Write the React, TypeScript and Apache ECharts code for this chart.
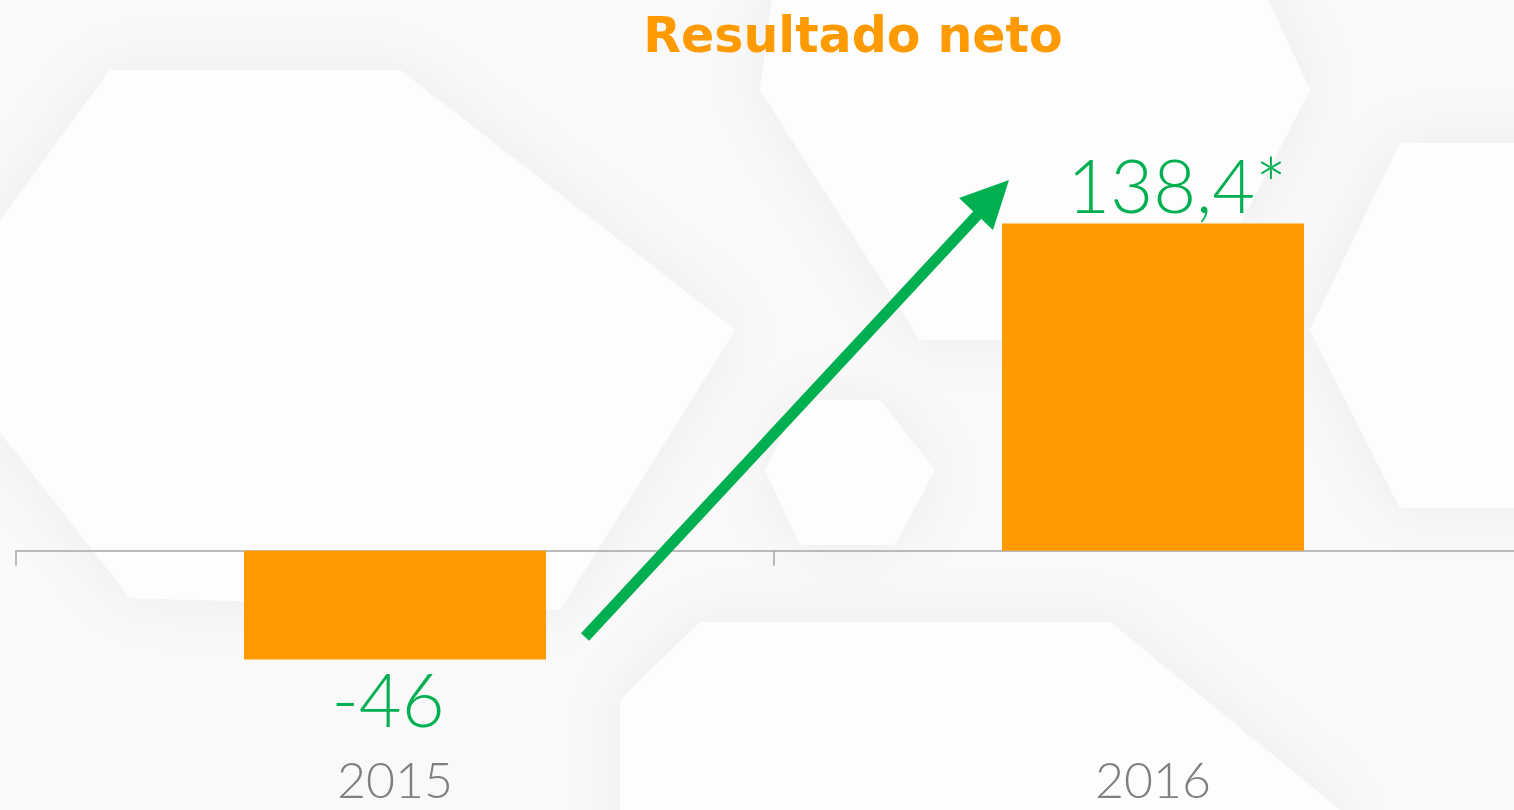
import React, { useEffect, useRef } from "react";
import * as echarts from "echarts";

const categories = ["2015", "2016"];
const values = [-46, 138.4];
const valueLabels = ["-46", "138,4*"];
const titleText = "Resultado neto";

const ORANGE = "#FF9A00";
const GREEN = "#00B050";

const hexes: number[][][] = [
  [[110, 70], [400, 70], [735, 330], [560, 610], [130, 598], [-80, 330]],
  [[780, -60], [1240, -60], [1310, 90], [1180, 340], [920, 340], [760, 90]],
  [[800, 400], [880, 400], [935, 470], [895, 545], [800, 545], [765, 470]],
  [[700, 622], [1110, 622], [1340, 810], [1340, 900], [620, 900], [620, 700]],
  [[1400, 143], [1560, 143], [1560, 508], [1400, 508], [1310, 330]],
];

export default function App() {
  const ref = useRef<HTMLDivElement>(null);
  useEffect(() => {
    const chart = echarts.init(ref.current!, null, { renderer: "svg" });
    const bg = hexes.map((pts) => ({
      type: "polygon",
      silent: true,
      z: -10,
      shape: { points: pts },
      style: { fill: "#fdfdfd", shadowBlur: 60, shadowColor: "rgba(0,0,0,0.05)" },
    }));
    chart.setOption({
      animation: false,
      backgroundColor: "#f9f9f9",
      title: {
        text: titleText,
        left: 848,
        top: 6,
        textAlign: "center",
        textStyle: { color: ORANGE, fontSize: 49, fontWeight: "bold", fontFamily: "DejaVu Sans" },
      },
      grid: { left: 16, width: 1516, top: 78, height: 709, containLabel: false, outerBoundsMode: "none" },
      xAxis: {
        type: "category",
        data: categories,
        axisLine: { lineStyle: { color: "#a6a6a6", width: 1.5 } },
        axisTick: { show: true, length: 15, lineStyle: { color: "#a6a6a6", width: 1.5 } },
        axisLabel: {
          color: "#808080",
          fontSize: 50,
          fontFamily: "Lato",
          fontWeight: 300,
          margin: -33,
        },
      },
      yAxis: { type: "value", min: -100, max: 200, show: false, splitLine: { show: false } },
      series: [
        {
          type: "bar",
          barWidth: 302,
          data: values.map((v, i) => ({
            value: v,
            label: {
              show: true,
              position: v < 0 ? "bottom" : "top",
              distance: 2,
              offset: v < 0 ? [-7, 0] : [24, 0],
              formatter: () => valueLabels[i],
              color: GREEN,
              fontSize: 74,
              fontFamily: "Lato",
              fontWeight: 300,
            },
          })),
          itemStyle: { color: ORANGE },
        },
      ],
      graphic: [
        ...bg,
        {
          type: "line",
          z: 100,
          shape: { x1: 585, y1: 637, x2: 982, y2: 210 },
          style: { stroke: GREEN, lineWidth: 11 },
        },
        {
          type: "polygon",
          z: 100,
          shape: { points: [[1009, 180], [959, 198], [993, 230]] },
          style: { fill: GREEN },
        },
      ],
    });
    return () => chart.dispose();
  }, []);
  return <div ref={ref} style={{ position: "fixed", left: 0, top: 0, width: 1514, height: 810 }} />;
}
